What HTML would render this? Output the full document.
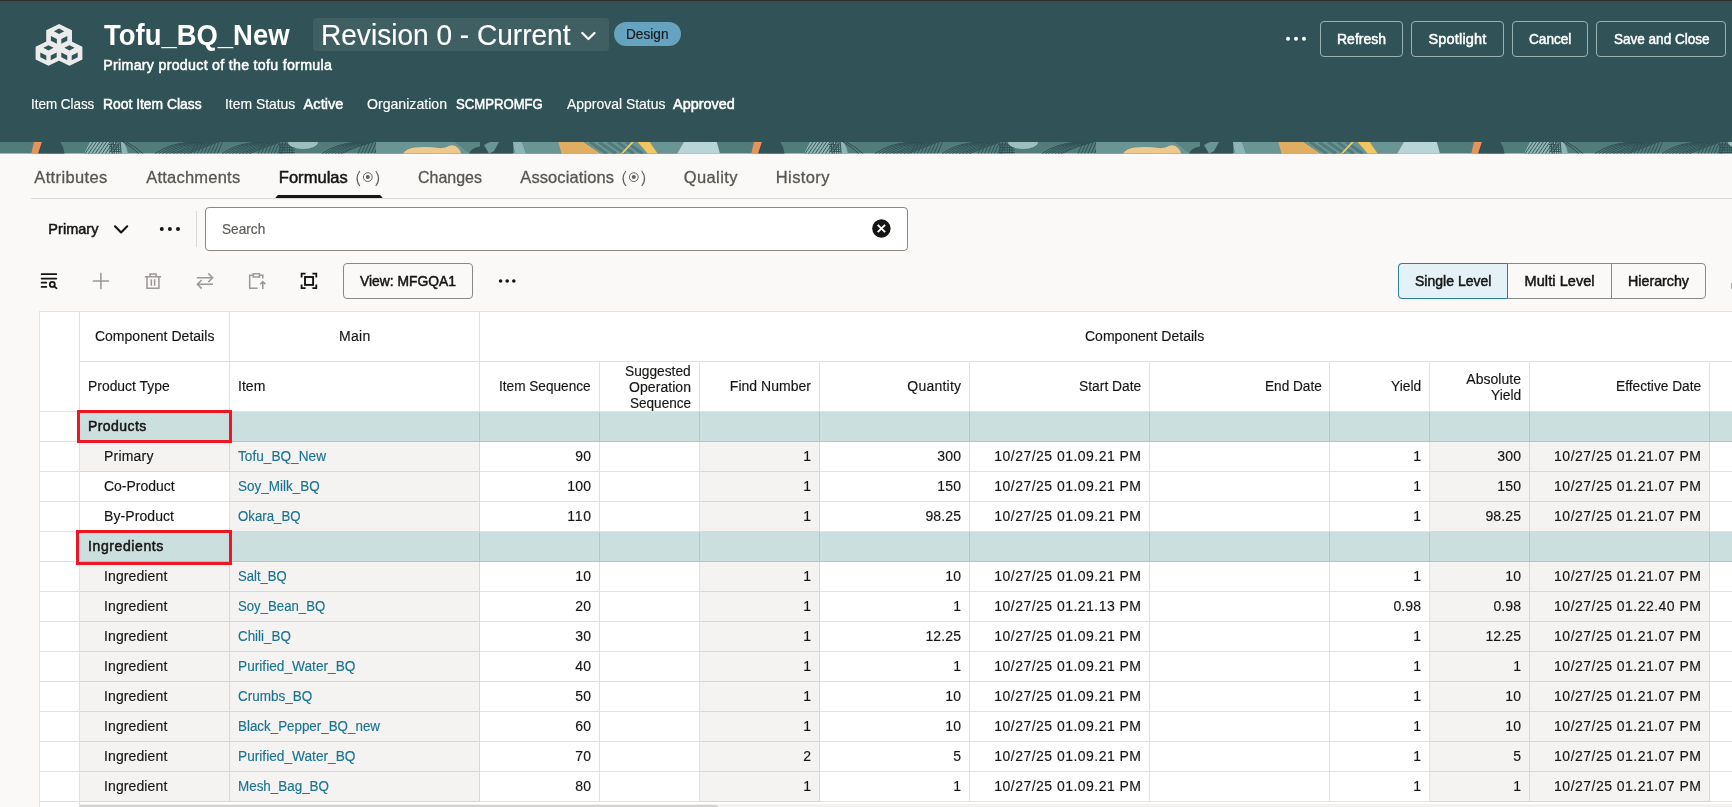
<!DOCTYPE html>
<html lang="en">
<head>
<meta charset="utf-8">
<title>Tofu_BQ_New - Formulas</title>
<style>
html,body{margin:0;padding:0;}
body{width:1732px;height:807px;overflow:hidden;position:relative;background:#fbf9f8;font-family:"Liberation Sans",sans-serif;color:#161513;}
.t{position:absolute;white-space:pre;transform-origin:0 0;font-family:"Liberation Sans",sans-serif;font-size:14px;}
.abs,.box,.ln,.bg{position:absolute;}
#topline{left:0;top:0;width:1732px;height:1px;background:#312d2a;}
#hdr{left:0;top:1px;width:1732px;height:141px;background:#315357;}
.btn{box-sizing:border-box;border:1px solid #9bb0b0;border-radius:4px;height:36px;top:21px;}
#rev{left:313px;top:18px;width:296px;height:33px;border-radius:4px;background:#405f63;}
#badge{left:614px;top:22px;width:67px;height:24px;border-radius:12px;background:#66a3c0;}
#tabline{left:31px;top:198px;width:1701px;height:1px;background:#dedbd7;}
#search{box-sizing:border-box;left:205px;top:207px;width:703px;height:44px;border:1px solid #8b8782;border-radius:4px;background:#fff;}
#vsep{left:196px;top:211px;width:1px;height:36px;background:#dedbd7;}
#viewbtn{box-sizing:border-box;left:343px;top:263px;width:130px;height:36px;border:1px solid #8b8782;border-radius:4px;}
#seg{box-sizing:border-box;left:1398px;top:263px;width:308px;height:36px;border:1px solid #8b8782;border-radius:4px;}
#seg1{box-sizing:border-box;left:1398px;top:263px;width:110px;height:36px;border:1px solid #2a80a1;border-radius:4px 0 0 4px;background:#e4f1f7;}
.segl{width:1px;height:34px;top:264px;background:#8b8782;}
#txt{left:0;top:0;width:1732px;height:807px;will-change:transform;}
#tbl{left:39px;top:311px;width:1693px;height:496px;background:#fff;}
.bg{background:#f4f3f1;}
.grp{background:#cbdfde;}
.ln{background:rgba(22,21,19,0.125);}
.red{box-sizing:border-box;border:3px solid #ec1624;}
#sbt{left:80px;top:804px;width:1652px;height:3px;background:#f3f2f0;}
#sb{left:80px;top:805px;width:638px;height:4px;background:#d3d2d0;border-radius:0 2px 0 0;}
#edge{left:1731px;top:283px;width:1px;height:6px;background:#a9a6a3;}
</style>
</head>
<body>
<div class="abs" id="topline"></div>
<div class="abs" id="hdr"></div>
<div class="abs" id="rev"></div>
<div class="abs" id="badge"></div>
<div class="abs btn" style="left:1320px;width:83px"></div>
<div class="abs btn" style="left:1411px;width:93px"></div>
<div class="abs btn" style="left:1512px;width:76px"></div>
<div class="abs btn" style="left:1596px;width:130px"></div>
<div class="abs" id="tabline"></div>
<div class="abs" id="search"></div>
<div class="abs" id="vsep"></div>
<div class="abs" id="viewbtn"></div>
<div class="abs" id="seg"></div>
<div class="abs" id="seg1"></div>
<div class="abs segl" style="left:1611px"></div>
<div class="abs" id="tbl"></div>
<div class="bg grp" style="left:80px;top:412px;width:1652px;height:30px"></div>
<div class="bg grp" style="left:80px;top:532px;width:1652px;height:30px"></div>
<div class="bg" style="left:80px;top:442px;width:150px;height:30px"></div>
<div class="bg" style="left:230px;top:442px;width:250px;height:30px"></div>
<div class="bg" style="left:700px;top:442px;width:120px;height:30px"></div>
<div class="bg" style="left:1430px;top:442px;width:280px;height:30px"></div>
<div class="bg" style="left:230px;top:472px;width:250px;height:30px"></div>
<div class="bg" style="left:700px;top:472px;width:120px;height:30px"></div>
<div class="bg" style="left:1430px;top:472px;width:280px;height:30px"></div>
<div class="bg" style="left:230px;top:502px;width:250px;height:30px"></div>
<div class="bg" style="left:700px;top:502px;width:120px;height:30px"></div>
<div class="bg" style="left:1430px;top:502px;width:280px;height:30px"></div>
<div class="bg" style="left:80px;top:562px;width:150px;height:30px"></div>
<div class="bg" style="left:230px;top:562px;width:250px;height:30px"></div>
<div class="bg" style="left:700px;top:562px;width:120px;height:30px"></div>
<div class="bg" style="left:1430px;top:562px;width:280px;height:30px"></div>
<div class="bg" style="left:80px;top:592px;width:150px;height:30px"></div>
<div class="bg" style="left:230px;top:592px;width:250px;height:30px"></div>
<div class="bg" style="left:700px;top:592px;width:120px;height:30px"></div>
<div class="bg" style="left:1430px;top:592px;width:280px;height:30px"></div>
<div class="bg" style="left:80px;top:622px;width:150px;height:30px"></div>
<div class="bg" style="left:230px;top:622px;width:250px;height:30px"></div>
<div class="bg" style="left:700px;top:622px;width:120px;height:30px"></div>
<div class="bg" style="left:1430px;top:622px;width:280px;height:30px"></div>
<div class="bg" style="left:80px;top:652px;width:150px;height:30px"></div>
<div class="bg" style="left:230px;top:652px;width:250px;height:30px"></div>
<div class="bg" style="left:700px;top:652px;width:120px;height:30px"></div>
<div class="bg" style="left:1430px;top:652px;width:280px;height:30px"></div>
<div class="bg" style="left:80px;top:682px;width:150px;height:30px"></div>
<div class="bg" style="left:230px;top:682px;width:250px;height:30px"></div>
<div class="bg" style="left:700px;top:682px;width:120px;height:30px"></div>
<div class="bg" style="left:1430px;top:682px;width:280px;height:30px"></div>
<div class="bg" style="left:80px;top:712px;width:150px;height:30px"></div>
<div class="bg" style="left:230px;top:712px;width:250px;height:30px"></div>
<div class="bg" style="left:700px;top:712px;width:120px;height:30px"></div>
<div class="bg" style="left:1430px;top:712px;width:280px;height:30px"></div>
<div class="bg" style="left:80px;top:742px;width:150px;height:30px"></div>
<div class="bg" style="left:230px;top:742px;width:250px;height:30px"></div>
<div class="bg" style="left:700px;top:742px;width:120px;height:30px"></div>
<div class="bg" style="left:1430px;top:742px;width:280px;height:30px"></div>
<div class="bg" style="left:80px;top:772px;width:150px;height:30px"></div>
<div class="bg" style="left:230px;top:772px;width:250px;height:30px"></div>
<div class="bg" style="left:700px;top:772px;width:120px;height:30px"></div>
<div class="bg" style="left:1430px;top:772px;width:280px;height:30px"></div>
<div class="ln" style="left:39px;top:311px;width:1693px;height:1px"></div>
<div class="ln" style="left:80px;top:361px;width:1652px;height:1px"></div>
<div class="ln" style="left:39px;top:411px;width:1693px;height:1px"></div>
<div class="ln" style="left:39px;top:441px;width:1693px;height:1px"></div>
<div class="ln" style="left:39px;top:471px;width:1693px;height:1px"></div>
<div class="ln" style="left:39px;top:501px;width:1693px;height:1px"></div>
<div class="ln" style="left:39px;top:531px;width:1693px;height:1px"></div>
<div class="ln" style="left:39px;top:561px;width:1693px;height:1px"></div>
<div class="ln" style="left:39px;top:591px;width:1693px;height:1px"></div>
<div class="ln" style="left:39px;top:621px;width:1693px;height:1px"></div>
<div class="ln" style="left:39px;top:651px;width:1693px;height:1px"></div>
<div class="ln" style="left:39px;top:681px;width:1693px;height:1px"></div>
<div class="ln" style="left:39px;top:711px;width:1693px;height:1px"></div>
<div class="ln" style="left:39px;top:741px;width:1693px;height:1px"></div>
<div class="ln" style="left:39px;top:771px;width:1693px;height:1px"></div>
<div class="ln" style="left:39px;top:801px;width:1693px;height:1px"></div>
<div class="ln" style="left:39px;top:312px;width:1px;height:99px"></div>
<div class="ln" style="left:39px;top:412px;width:1px;height:29px"></div>
<div class="ln" style="left:39px;top:442px;width:1px;height:29px"></div>
<div class="ln" style="left:39px;top:472px;width:1px;height:29px"></div>
<div class="ln" style="left:39px;top:502px;width:1px;height:29px"></div>
<div class="ln" style="left:39px;top:532px;width:1px;height:29px"></div>
<div class="ln" style="left:39px;top:562px;width:1px;height:29px"></div>
<div class="ln" style="left:39px;top:592px;width:1px;height:29px"></div>
<div class="ln" style="left:39px;top:622px;width:1px;height:29px"></div>
<div class="ln" style="left:39px;top:652px;width:1px;height:29px"></div>
<div class="ln" style="left:39px;top:682px;width:1px;height:29px"></div>
<div class="ln" style="left:39px;top:712px;width:1px;height:29px"></div>
<div class="ln" style="left:39px;top:742px;width:1px;height:29px"></div>
<div class="ln" style="left:39px;top:772px;width:1px;height:29px"></div>
<div class="ln" style="left:39px;top:802px;width:1px;height:5px"></div>
<div class="ln" style="left:79px;top:312px;width:1px;height:99px"></div>
<div class="ln" style="left:79px;top:412px;width:1px;height:29px"></div>
<div class="ln" style="left:79px;top:442px;width:1px;height:29px"></div>
<div class="ln" style="left:79px;top:472px;width:1px;height:29px"></div>
<div class="ln" style="left:79px;top:502px;width:1px;height:29px"></div>
<div class="ln" style="left:79px;top:532px;width:1px;height:29px"></div>
<div class="ln" style="left:79px;top:562px;width:1px;height:29px"></div>
<div class="ln" style="left:79px;top:592px;width:1px;height:29px"></div>
<div class="ln" style="left:79px;top:622px;width:1px;height:29px"></div>
<div class="ln" style="left:79px;top:652px;width:1px;height:29px"></div>
<div class="ln" style="left:79px;top:682px;width:1px;height:29px"></div>
<div class="ln" style="left:79px;top:712px;width:1px;height:29px"></div>
<div class="ln" style="left:79px;top:742px;width:1px;height:29px"></div>
<div class="ln" style="left:79px;top:772px;width:1px;height:29px"></div>
<div class="ln" style="left:79px;top:802px;width:1px;height:5px"></div>
<div class="ln" style="left:229px;top:312px;width:1px;height:49px"></div>
<div class="ln" style="left:229px;top:362px;width:1px;height:49px"></div>
<div class="ln" style="left:229px;top:412px;width:1px;height:29px"></div>
<div class="ln" style="left:229px;top:442px;width:1px;height:29px"></div>
<div class="ln" style="left:229px;top:472px;width:1px;height:29px"></div>
<div class="ln" style="left:229px;top:502px;width:1px;height:29px"></div>
<div class="ln" style="left:229px;top:532px;width:1px;height:29px"></div>
<div class="ln" style="left:229px;top:562px;width:1px;height:29px"></div>
<div class="ln" style="left:229px;top:592px;width:1px;height:29px"></div>
<div class="ln" style="left:229px;top:622px;width:1px;height:29px"></div>
<div class="ln" style="left:229px;top:652px;width:1px;height:29px"></div>
<div class="ln" style="left:229px;top:682px;width:1px;height:29px"></div>
<div class="ln" style="left:229px;top:712px;width:1px;height:29px"></div>
<div class="ln" style="left:229px;top:742px;width:1px;height:29px"></div>
<div class="ln" style="left:229px;top:772px;width:1px;height:29px"></div>
<div class="ln" style="left:479px;top:312px;width:1px;height:49px"></div>
<div class="ln" style="left:479px;top:362px;width:1px;height:49px"></div>
<div class="ln" style="left:479px;top:412px;width:1px;height:29px"></div>
<div class="ln" style="left:479px;top:442px;width:1px;height:29px"></div>
<div class="ln" style="left:479px;top:472px;width:1px;height:29px"></div>
<div class="ln" style="left:479px;top:502px;width:1px;height:29px"></div>
<div class="ln" style="left:479px;top:532px;width:1px;height:29px"></div>
<div class="ln" style="left:479px;top:562px;width:1px;height:29px"></div>
<div class="ln" style="left:479px;top:592px;width:1px;height:29px"></div>
<div class="ln" style="left:479px;top:622px;width:1px;height:29px"></div>
<div class="ln" style="left:479px;top:652px;width:1px;height:29px"></div>
<div class="ln" style="left:479px;top:682px;width:1px;height:29px"></div>
<div class="ln" style="left:479px;top:712px;width:1px;height:29px"></div>
<div class="ln" style="left:479px;top:742px;width:1px;height:29px"></div>
<div class="ln" style="left:479px;top:772px;width:1px;height:29px"></div>
<div class="ln" style="left:599px;top:362px;width:1px;height:49px"></div>
<div class="ln" style="left:599px;top:412px;width:1px;height:29px"></div>
<div class="ln" style="left:599px;top:442px;width:1px;height:29px"></div>
<div class="ln" style="left:599px;top:472px;width:1px;height:29px"></div>
<div class="ln" style="left:599px;top:502px;width:1px;height:29px"></div>
<div class="ln" style="left:599px;top:532px;width:1px;height:29px"></div>
<div class="ln" style="left:599px;top:562px;width:1px;height:29px"></div>
<div class="ln" style="left:599px;top:592px;width:1px;height:29px"></div>
<div class="ln" style="left:599px;top:622px;width:1px;height:29px"></div>
<div class="ln" style="left:599px;top:652px;width:1px;height:29px"></div>
<div class="ln" style="left:599px;top:682px;width:1px;height:29px"></div>
<div class="ln" style="left:599px;top:712px;width:1px;height:29px"></div>
<div class="ln" style="left:599px;top:742px;width:1px;height:29px"></div>
<div class="ln" style="left:599px;top:772px;width:1px;height:29px"></div>
<div class="ln" style="left:699px;top:362px;width:1px;height:49px"></div>
<div class="ln" style="left:699px;top:412px;width:1px;height:29px"></div>
<div class="ln" style="left:699px;top:442px;width:1px;height:29px"></div>
<div class="ln" style="left:699px;top:472px;width:1px;height:29px"></div>
<div class="ln" style="left:699px;top:502px;width:1px;height:29px"></div>
<div class="ln" style="left:699px;top:532px;width:1px;height:29px"></div>
<div class="ln" style="left:699px;top:562px;width:1px;height:29px"></div>
<div class="ln" style="left:699px;top:592px;width:1px;height:29px"></div>
<div class="ln" style="left:699px;top:622px;width:1px;height:29px"></div>
<div class="ln" style="left:699px;top:652px;width:1px;height:29px"></div>
<div class="ln" style="left:699px;top:682px;width:1px;height:29px"></div>
<div class="ln" style="left:699px;top:712px;width:1px;height:29px"></div>
<div class="ln" style="left:699px;top:742px;width:1px;height:29px"></div>
<div class="ln" style="left:699px;top:772px;width:1px;height:29px"></div>
<div class="ln" style="left:819px;top:362px;width:1px;height:49px"></div>
<div class="ln" style="left:819px;top:412px;width:1px;height:29px"></div>
<div class="ln" style="left:819px;top:442px;width:1px;height:29px"></div>
<div class="ln" style="left:819px;top:472px;width:1px;height:29px"></div>
<div class="ln" style="left:819px;top:502px;width:1px;height:29px"></div>
<div class="ln" style="left:819px;top:532px;width:1px;height:29px"></div>
<div class="ln" style="left:819px;top:562px;width:1px;height:29px"></div>
<div class="ln" style="left:819px;top:592px;width:1px;height:29px"></div>
<div class="ln" style="left:819px;top:622px;width:1px;height:29px"></div>
<div class="ln" style="left:819px;top:652px;width:1px;height:29px"></div>
<div class="ln" style="left:819px;top:682px;width:1px;height:29px"></div>
<div class="ln" style="left:819px;top:712px;width:1px;height:29px"></div>
<div class="ln" style="left:819px;top:742px;width:1px;height:29px"></div>
<div class="ln" style="left:819px;top:772px;width:1px;height:29px"></div>
<div class="ln" style="left:969px;top:362px;width:1px;height:49px"></div>
<div class="ln" style="left:969px;top:412px;width:1px;height:29px"></div>
<div class="ln" style="left:969px;top:442px;width:1px;height:29px"></div>
<div class="ln" style="left:969px;top:472px;width:1px;height:29px"></div>
<div class="ln" style="left:969px;top:502px;width:1px;height:29px"></div>
<div class="ln" style="left:969px;top:532px;width:1px;height:29px"></div>
<div class="ln" style="left:969px;top:562px;width:1px;height:29px"></div>
<div class="ln" style="left:969px;top:592px;width:1px;height:29px"></div>
<div class="ln" style="left:969px;top:622px;width:1px;height:29px"></div>
<div class="ln" style="left:969px;top:652px;width:1px;height:29px"></div>
<div class="ln" style="left:969px;top:682px;width:1px;height:29px"></div>
<div class="ln" style="left:969px;top:712px;width:1px;height:29px"></div>
<div class="ln" style="left:969px;top:742px;width:1px;height:29px"></div>
<div class="ln" style="left:969px;top:772px;width:1px;height:29px"></div>
<div class="ln" style="left:1149px;top:362px;width:1px;height:49px"></div>
<div class="ln" style="left:1149px;top:412px;width:1px;height:29px"></div>
<div class="ln" style="left:1149px;top:442px;width:1px;height:29px"></div>
<div class="ln" style="left:1149px;top:472px;width:1px;height:29px"></div>
<div class="ln" style="left:1149px;top:502px;width:1px;height:29px"></div>
<div class="ln" style="left:1149px;top:532px;width:1px;height:29px"></div>
<div class="ln" style="left:1149px;top:562px;width:1px;height:29px"></div>
<div class="ln" style="left:1149px;top:592px;width:1px;height:29px"></div>
<div class="ln" style="left:1149px;top:622px;width:1px;height:29px"></div>
<div class="ln" style="left:1149px;top:652px;width:1px;height:29px"></div>
<div class="ln" style="left:1149px;top:682px;width:1px;height:29px"></div>
<div class="ln" style="left:1149px;top:712px;width:1px;height:29px"></div>
<div class="ln" style="left:1149px;top:742px;width:1px;height:29px"></div>
<div class="ln" style="left:1149px;top:772px;width:1px;height:29px"></div>
<div class="ln" style="left:1329px;top:362px;width:1px;height:49px"></div>
<div class="ln" style="left:1329px;top:412px;width:1px;height:29px"></div>
<div class="ln" style="left:1329px;top:442px;width:1px;height:29px"></div>
<div class="ln" style="left:1329px;top:472px;width:1px;height:29px"></div>
<div class="ln" style="left:1329px;top:502px;width:1px;height:29px"></div>
<div class="ln" style="left:1329px;top:532px;width:1px;height:29px"></div>
<div class="ln" style="left:1329px;top:562px;width:1px;height:29px"></div>
<div class="ln" style="left:1329px;top:592px;width:1px;height:29px"></div>
<div class="ln" style="left:1329px;top:622px;width:1px;height:29px"></div>
<div class="ln" style="left:1329px;top:652px;width:1px;height:29px"></div>
<div class="ln" style="left:1329px;top:682px;width:1px;height:29px"></div>
<div class="ln" style="left:1329px;top:712px;width:1px;height:29px"></div>
<div class="ln" style="left:1329px;top:742px;width:1px;height:29px"></div>
<div class="ln" style="left:1329px;top:772px;width:1px;height:29px"></div>
<div class="ln" style="left:1429px;top:362px;width:1px;height:49px"></div>
<div class="ln" style="left:1429px;top:412px;width:1px;height:29px"></div>
<div class="ln" style="left:1429px;top:442px;width:1px;height:29px"></div>
<div class="ln" style="left:1429px;top:472px;width:1px;height:29px"></div>
<div class="ln" style="left:1429px;top:502px;width:1px;height:29px"></div>
<div class="ln" style="left:1429px;top:532px;width:1px;height:29px"></div>
<div class="ln" style="left:1429px;top:562px;width:1px;height:29px"></div>
<div class="ln" style="left:1429px;top:592px;width:1px;height:29px"></div>
<div class="ln" style="left:1429px;top:622px;width:1px;height:29px"></div>
<div class="ln" style="left:1429px;top:652px;width:1px;height:29px"></div>
<div class="ln" style="left:1429px;top:682px;width:1px;height:29px"></div>
<div class="ln" style="left:1429px;top:712px;width:1px;height:29px"></div>
<div class="ln" style="left:1429px;top:742px;width:1px;height:29px"></div>
<div class="ln" style="left:1429px;top:772px;width:1px;height:29px"></div>
<div class="ln" style="left:1529px;top:362px;width:1px;height:49px"></div>
<div class="ln" style="left:1529px;top:412px;width:1px;height:29px"></div>
<div class="ln" style="left:1529px;top:442px;width:1px;height:29px"></div>
<div class="ln" style="left:1529px;top:472px;width:1px;height:29px"></div>
<div class="ln" style="left:1529px;top:502px;width:1px;height:29px"></div>
<div class="ln" style="left:1529px;top:532px;width:1px;height:29px"></div>
<div class="ln" style="left:1529px;top:562px;width:1px;height:29px"></div>
<div class="ln" style="left:1529px;top:592px;width:1px;height:29px"></div>
<div class="ln" style="left:1529px;top:622px;width:1px;height:29px"></div>
<div class="ln" style="left:1529px;top:652px;width:1px;height:29px"></div>
<div class="ln" style="left:1529px;top:682px;width:1px;height:29px"></div>
<div class="ln" style="left:1529px;top:712px;width:1px;height:29px"></div>
<div class="ln" style="left:1529px;top:742px;width:1px;height:29px"></div>
<div class="ln" style="left:1529px;top:772px;width:1px;height:29px"></div>
<div class="ln" style="left:1709px;top:362px;width:1px;height:49px"></div>
<div class="ln" style="left:1709px;top:412px;width:1px;height:29px"></div>
<div class="ln" style="left:1709px;top:442px;width:1px;height:29px"></div>
<div class="ln" style="left:1709px;top:472px;width:1px;height:29px"></div>
<div class="ln" style="left:1709px;top:502px;width:1px;height:29px"></div>
<div class="ln" style="left:1709px;top:532px;width:1px;height:29px"></div>
<div class="ln" style="left:1709px;top:562px;width:1px;height:29px"></div>
<div class="ln" style="left:1709px;top:592px;width:1px;height:29px"></div>
<div class="ln" style="left:1709px;top:622px;width:1px;height:29px"></div>
<div class="ln" style="left:1709px;top:652px;width:1px;height:29px"></div>
<div class="ln" style="left:1709px;top:682px;width:1px;height:29px"></div>
<div class="ln" style="left:1709px;top:712px;width:1px;height:29px"></div>
<div class="ln" style="left:1709px;top:742px;width:1px;height:29px"></div>
<div class="ln" style="left:1709px;top:772px;width:1px;height:29px"></div>
<div class="abs red" style="left:77px;top:410px;width:155px;height:33px"></div>
<div class="abs red" style="left:76px;top:530px;width:156px;height:35px"></div>
<div class="abs" id="sbt"></div>
<div class="abs" id="sb"></div>
<div class="abs" id="edge"></div>
<svg class="abs" style="left:0;top:0" width="1732" height="807" viewBox="0 0 1732 807">
<defs><clipPath id="sc"><rect x="0" y="142" width="1732" height="11.7"/></clipPath></defs>
<g clip-path="url(#sc)"><g transform="translate(0,142)"><rect x="0" y="0" width="720" height="11.7" fill="#517c7a"/>
<polygon points="34,0 42,0 38.1,11.7 31.2,11.7" fill="#e8935a"/>
<path d="M42,0 L60,0 Q64,5 64.5,11.7 L38.1,11.7 Z" fill="#315357"/>
<path d="M90,0 L124,0 Q127,6 128,11.7 L84,11.7 Z" fill="#8fb5b3"/>
<path d="M93.0,0 Q89.5,5 85.0,11.7 M96.4,0 Q92.9,5 88.4,11.7 M99.8,0 Q96.3,5 91.8,11.7 M103.2,0 Q99.7,5 95.2,11.7 M106.6,0 Q103.1,5 98.6,11.7 M110.0,0 Q106.5,5 102.0,11.7 M113.4,0 Q109.9,5 105.4,11.7 M116.8,0 Q113.3,5 108.8,11.7 M120.2,0 Q116.7,5 112.2,11.7 M111.0,0 L112.0,11.7 M113.3,0 L114.3,11.7 M115.6,0 L116.6,11.7 M117.9,0 L118.9,11.7 M120.2,0 L121.2,11.7 M109,2.5 L121,3.1 M109,4.7 L121,5.3 M109,6.9 L121,7.5 M109,9.1 L121,9.7 M123,0 Q132,5 139,11.7 M126,0 Q135,4 143,11.7 M155.0,11.7 Q169.0,1.5 191.0,0 M158.6,11.7 Q173.2,1.8 194.0,0 M162.2,11.7 Q177.4,2.1 197.0,0 M165.8,11.7 Q181.6,2.4 200.0,0 M169.4,11.7 Q185.8,2.7 203.0,0 M173.0,11.7 Q190.0,3.0 206.0,0 M176.6,11.7 Q194.2,3.3 209.0,0 M180.2,11.7 Q198.4,3.6 212.0,0 M183.8,11.7 Q202.6,3.9 215.0,0 M187.4,11.7 Q206.8,4.2 218.0,0 M196.0,0 L191.0,11.7 M199.3,0 L194.3,11.7 M202.6,0 L197.6,11.7 M205.9,0 L200.9,11.7 M209.2,0 L204.2,11.7 M212.5,0 L207.5,11.7 M215.8,0 L210.8,11.7 M219.1,0 L214.1,11.7 M222.4,0 L217.4,11.7 M222.0,11.7 Q236.0,1.5 258.0,0 M225.4,11.7 Q240.0,1.8 260.8,0 M228.8,11.7 Q244.0,2.1 263.6,0 M232.2,11.7 Q248.0,2.4 266.4,0 M235.6,11.7 Q252.0,2.7 269.2,0 M239.0,11.7 Q256.0,3.0 272.0,0 M242.4,11.7 Q260.0,3.3 274.8,0 M245.8,11.7 Q264.0,3.6 277.6,0 M249.2,11.7 Q268.0,3.9 280.4,0 M263.0,0 L258.0,11.7 M266.3,0 L261.3,11.7 M269.6,0 L264.6,11.7 M272.9,0 L267.9,11.7 M276.2,0 L271.2,11.7 M279.5,0 L274.5,11.7 M282.8,0 L277.8,11.7 M286.1,0 L281.1,11.7 M322.0,11.7 Q336.0,1.5 358.0,0 M325.2,11.7 Q339.8,1.8 360.6,0 M328.4,11.7 Q343.6,2.1 363.2,0 M331.6,11.7 Q347.4,2.4 365.8,0 M334.8,11.7 Q351.2,2.7 368.4,0 M338.0,11.7 Q355.0,3.0 371.0,0 M341.2,11.7 Q358.8,3.3 373.6,0 M363.0,0 L358.0,11.7 M366.3,0 L361.3,11.7 M369.6,0 L364.6,11.7 M372.9,0 L367.9,11.7 M376.2,0 L371.2,11.7 M379.5,0 L374.5,11.7 M280.0,1 L280.0,11.7 M282.4,1 L282.4,11.7 M284.8,1 L284.8,11.7 M287.2,1 L287.2,11.7 M289.6,1 L289.6,11.7 M292.0,1 L292.0,11.7 M279,3 L295,3 M279,5.5 L295,5.5 M279,8 L295,8 M279,10.5 L295,10.5" fill="none" stroke="#2c4d51" stroke-width="0.9"/>
<ellipse cx="303" cy="0" rx="15" ry="7" fill="#9dbfbd"/>
<polygon points="376,0 455,0 470,11.7 376,11.7" fill="#6b9593"/>
<polygon points="455,0 480,0 480,6 470,11.7" fill="#5a8583"/>
<path d="M403,11.7 Q406,7 414,5.6 Q428,4.2 440,6.3 Q446,6 450,3.6 Q455,2.6 458,6 Q461,9 461,11.7 Z" fill="#edc98f"/>
<path d="M469,11.7 Q471,6 480,4.5 L480,11.7 Z" fill="#315357"/>
<rect x="480" y="0" width="33" height="11.7" fill="#315357"/>
<polygon points="484,3 490,0 499,0 494,9 489,11.7" fill="#6b9593"/>
<polygon points="513,0 522,0 526,11.7 515,11.7" fill="#8db4b8"/>
<polygon points="522,0 559,0 562,11.7 526,11.7" fill="#6b9593"/>
<polygon points="558.4,0 583.5,0 601,11.7 561.6,11.7" fill="#dfae60"/>
<polygon points="583.5,0 684,0 677,11.7 601,11.7" fill="#6b9593"/>
<path d="M590.0,0 L607.0,11.7 M599.0,0 L616.0,11.7 M608.0,0 L625.0,11.7 M617.0,0 L634.0,11.7 M626.0,0 L643.0,11.7" stroke="#527c7a" stroke-width="3.2" fill="none"/>
<polygon points="631.5,0 634,0 623,11.7 620.5,11.7" fill="#f2c661"/>
<polygon points="637.6,0 649.7,0 657.8,11.7 648,11.7" fill="#f2c661"/>
<polygon points="684,0 716.8,0 720,11.7 677,11.7" fill="#b9d4d6"/></g><g transform="translate(720,142)"><rect x="0" y="0" width="720" height="11.7" fill="#517c7a"/>
<polygon points="34,0 42,0 38.1,11.7 31.2,11.7" fill="#e8935a"/>
<path d="M42,0 L60,0 Q64,5 64.5,11.7 L38.1,11.7 Z" fill="#315357"/>
<path d="M90,0 L124,0 Q127,6 128,11.7 L84,11.7 Z" fill="#8fb5b3"/>
<path d="M93.0,0 Q89.5,5 85.0,11.7 M96.4,0 Q92.9,5 88.4,11.7 M99.8,0 Q96.3,5 91.8,11.7 M103.2,0 Q99.7,5 95.2,11.7 M106.6,0 Q103.1,5 98.6,11.7 M110.0,0 Q106.5,5 102.0,11.7 M113.4,0 Q109.9,5 105.4,11.7 M116.8,0 Q113.3,5 108.8,11.7 M120.2,0 Q116.7,5 112.2,11.7 M111.0,0 L112.0,11.7 M113.3,0 L114.3,11.7 M115.6,0 L116.6,11.7 M117.9,0 L118.9,11.7 M120.2,0 L121.2,11.7 M109,2.5 L121,3.1 M109,4.7 L121,5.3 M109,6.9 L121,7.5 M109,9.1 L121,9.7 M123,0 Q132,5 139,11.7 M126,0 Q135,4 143,11.7 M155.0,11.7 Q169.0,1.5 191.0,0 M158.6,11.7 Q173.2,1.8 194.0,0 M162.2,11.7 Q177.4,2.1 197.0,0 M165.8,11.7 Q181.6,2.4 200.0,0 M169.4,11.7 Q185.8,2.7 203.0,0 M173.0,11.7 Q190.0,3.0 206.0,0 M176.6,11.7 Q194.2,3.3 209.0,0 M180.2,11.7 Q198.4,3.6 212.0,0 M183.8,11.7 Q202.6,3.9 215.0,0 M187.4,11.7 Q206.8,4.2 218.0,0 M196.0,0 L191.0,11.7 M199.3,0 L194.3,11.7 M202.6,0 L197.6,11.7 M205.9,0 L200.9,11.7 M209.2,0 L204.2,11.7 M212.5,0 L207.5,11.7 M215.8,0 L210.8,11.7 M219.1,0 L214.1,11.7 M222.4,0 L217.4,11.7 M222.0,11.7 Q236.0,1.5 258.0,0 M225.4,11.7 Q240.0,1.8 260.8,0 M228.8,11.7 Q244.0,2.1 263.6,0 M232.2,11.7 Q248.0,2.4 266.4,0 M235.6,11.7 Q252.0,2.7 269.2,0 M239.0,11.7 Q256.0,3.0 272.0,0 M242.4,11.7 Q260.0,3.3 274.8,0 M245.8,11.7 Q264.0,3.6 277.6,0 M249.2,11.7 Q268.0,3.9 280.4,0 M263.0,0 L258.0,11.7 M266.3,0 L261.3,11.7 M269.6,0 L264.6,11.7 M272.9,0 L267.9,11.7 M276.2,0 L271.2,11.7 M279.5,0 L274.5,11.7 M282.8,0 L277.8,11.7 M286.1,0 L281.1,11.7 M322.0,11.7 Q336.0,1.5 358.0,0 M325.2,11.7 Q339.8,1.8 360.6,0 M328.4,11.7 Q343.6,2.1 363.2,0 M331.6,11.7 Q347.4,2.4 365.8,0 M334.8,11.7 Q351.2,2.7 368.4,0 M338.0,11.7 Q355.0,3.0 371.0,0 M341.2,11.7 Q358.8,3.3 373.6,0 M363.0,0 L358.0,11.7 M366.3,0 L361.3,11.7 M369.6,0 L364.6,11.7 M372.9,0 L367.9,11.7 M376.2,0 L371.2,11.7 M379.5,0 L374.5,11.7 M280.0,1 L280.0,11.7 M282.4,1 L282.4,11.7 M284.8,1 L284.8,11.7 M287.2,1 L287.2,11.7 M289.6,1 L289.6,11.7 M292.0,1 L292.0,11.7 M279,3 L295,3 M279,5.5 L295,5.5 M279,8 L295,8 M279,10.5 L295,10.5" fill="none" stroke="#2c4d51" stroke-width="0.9"/>
<ellipse cx="303" cy="0" rx="15" ry="7" fill="#9dbfbd"/>
<polygon points="376,0 455,0 470,11.7 376,11.7" fill="#6b9593"/>
<polygon points="455,0 480,0 480,6 470,11.7" fill="#5a8583"/>
<path d="M403,11.7 Q406,7 414,5.6 Q428,4.2 440,6.3 Q446,6 450,3.6 Q455,2.6 458,6 Q461,9 461,11.7 Z" fill="#edc98f"/>
<path d="M469,11.7 Q471,6 480,4.5 L480,11.7 Z" fill="#315357"/>
<rect x="480" y="0" width="33" height="11.7" fill="#315357"/>
<polygon points="484,3 490,0 499,0 494,9 489,11.7" fill="#6b9593"/>
<polygon points="513,0 522,0 526,11.7 515,11.7" fill="#8db4b8"/>
<polygon points="522,0 559,0 562,11.7 526,11.7" fill="#6b9593"/>
<polygon points="558.4,0 583.5,0 601,11.7 561.6,11.7" fill="#dfae60"/>
<polygon points="583.5,0 684,0 677,11.7 601,11.7" fill="#6b9593"/>
<path d="M590.0,0 L607.0,11.7 M599.0,0 L616.0,11.7 M608.0,0 L625.0,11.7 M617.0,0 L634.0,11.7 M626.0,0 L643.0,11.7" stroke="#527c7a" stroke-width="3.2" fill="none"/>
<polygon points="631.5,0 634,0 623,11.7 620.5,11.7" fill="#f2c661"/>
<polygon points="637.6,0 649.7,0 657.8,11.7 648,11.7" fill="#f2c661"/>
<polygon points="684,0 716.8,0 720,11.7 677,11.7" fill="#b9d4d6"/></g><g transform="translate(1440,142)"><rect x="0" y="0" width="720" height="11.7" fill="#517c7a"/>
<polygon points="34,0 42,0 38.1,11.7 31.2,11.7" fill="#e8935a"/>
<path d="M42,0 L60,0 Q64,5 64.5,11.7 L38.1,11.7 Z" fill="#315357"/>
<path d="M90,0 L124,0 Q127,6 128,11.7 L84,11.7 Z" fill="#8fb5b3"/>
<path d="M93.0,0 Q89.5,5 85.0,11.7 M96.4,0 Q92.9,5 88.4,11.7 M99.8,0 Q96.3,5 91.8,11.7 M103.2,0 Q99.7,5 95.2,11.7 M106.6,0 Q103.1,5 98.6,11.7 M110.0,0 Q106.5,5 102.0,11.7 M113.4,0 Q109.9,5 105.4,11.7 M116.8,0 Q113.3,5 108.8,11.7 M120.2,0 Q116.7,5 112.2,11.7 M111.0,0 L112.0,11.7 M113.3,0 L114.3,11.7 M115.6,0 L116.6,11.7 M117.9,0 L118.9,11.7 M120.2,0 L121.2,11.7 M109,2.5 L121,3.1 M109,4.7 L121,5.3 M109,6.9 L121,7.5 M109,9.1 L121,9.7 M123,0 Q132,5 139,11.7 M126,0 Q135,4 143,11.7 M155.0,11.7 Q169.0,1.5 191.0,0 M158.6,11.7 Q173.2,1.8 194.0,0 M162.2,11.7 Q177.4,2.1 197.0,0 M165.8,11.7 Q181.6,2.4 200.0,0 M169.4,11.7 Q185.8,2.7 203.0,0 M173.0,11.7 Q190.0,3.0 206.0,0 M176.6,11.7 Q194.2,3.3 209.0,0 M180.2,11.7 Q198.4,3.6 212.0,0 M183.8,11.7 Q202.6,3.9 215.0,0 M187.4,11.7 Q206.8,4.2 218.0,0 M196.0,0 L191.0,11.7 M199.3,0 L194.3,11.7 M202.6,0 L197.6,11.7 M205.9,0 L200.9,11.7 M209.2,0 L204.2,11.7 M212.5,0 L207.5,11.7 M215.8,0 L210.8,11.7 M219.1,0 L214.1,11.7 M222.4,0 L217.4,11.7 M222.0,11.7 Q236.0,1.5 258.0,0 M225.4,11.7 Q240.0,1.8 260.8,0 M228.8,11.7 Q244.0,2.1 263.6,0 M232.2,11.7 Q248.0,2.4 266.4,0 M235.6,11.7 Q252.0,2.7 269.2,0 M239.0,11.7 Q256.0,3.0 272.0,0 M242.4,11.7 Q260.0,3.3 274.8,0 M245.8,11.7 Q264.0,3.6 277.6,0 M249.2,11.7 Q268.0,3.9 280.4,0 M263.0,0 L258.0,11.7 M266.3,0 L261.3,11.7 M269.6,0 L264.6,11.7 M272.9,0 L267.9,11.7 M276.2,0 L271.2,11.7 M279.5,0 L274.5,11.7 M282.8,0 L277.8,11.7 M286.1,0 L281.1,11.7 M322.0,11.7 Q336.0,1.5 358.0,0 M325.2,11.7 Q339.8,1.8 360.6,0 M328.4,11.7 Q343.6,2.1 363.2,0 M331.6,11.7 Q347.4,2.4 365.8,0 M334.8,11.7 Q351.2,2.7 368.4,0 M338.0,11.7 Q355.0,3.0 371.0,0 M341.2,11.7 Q358.8,3.3 373.6,0 M363.0,0 L358.0,11.7 M366.3,0 L361.3,11.7 M369.6,0 L364.6,11.7 M372.9,0 L367.9,11.7 M376.2,0 L371.2,11.7 M379.5,0 L374.5,11.7 M280.0,1 L280.0,11.7 M282.4,1 L282.4,11.7 M284.8,1 L284.8,11.7 M287.2,1 L287.2,11.7 M289.6,1 L289.6,11.7 M292.0,1 L292.0,11.7 M279,3 L295,3 M279,5.5 L295,5.5 M279,8 L295,8 M279,10.5 L295,10.5" fill="none" stroke="#2c4d51" stroke-width="0.9"/>
<ellipse cx="303" cy="0" rx="15" ry="7" fill="#9dbfbd"/>
<polygon points="376,0 455,0 470,11.7 376,11.7" fill="#6b9593"/>
<polygon points="455,0 480,0 480,6 470,11.7" fill="#5a8583"/>
<path d="M403,11.7 Q406,7 414,5.6 Q428,4.2 440,6.3 Q446,6 450,3.6 Q455,2.6 458,6 Q461,9 461,11.7 Z" fill="#edc98f"/>
<path d="M469,11.7 Q471,6 480,4.5 L480,11.7 Z" fill="#315357"/>
<rect x="480" y="0" width="33" height="11.7" fill="#315357"/>
<polygon points="484,3 490,0 499,0 494,9 489,11.7" fill="#6b9593"/>
<polygon points="513,0 522,0 526,11.7 515,11.7" fill="#8db4b8"/>
<polygon points="522,0 559,0 562,11.7 526,11.7" fill="#6b9593"/>
<polygon points="558.4,0 583.5,0 601,11.7 561.6,11.7" fill="#dfae60"/>
<polygon points="583.5,0 684,0 677,11.7 601,11.7" fill="#6b9593"/>
<path d="M590.0,0 L607.0,11.7 M599.0,0 L616.0,11.7 M608.0,0 L625.0,11.7 M617.0,0 L634.0,11.7 M626.0,0 L643.0,11.7" stroke="#527c7a" stroke-width="3.2" fill="none"/>
<polygon points="631.5,0 634,0 623,11.7 620.5,11.7" fill="#f2c661"/>
<polygon points="637.6,0 649.7,0 657.8,11.7 648,11.7" fill="#f2c661"/>
<polygon points="684,0 716.8,0 720,11.7 677,11.7" fill="#b9d4d6"/></g></g>
<path d="M59.10,23.90 L72.00,30.20 L72.00,42.90 L59.10,49.20 L46.20,42.90 L46.20,30.20Z M48.50,40.50 L61.40,46.80 L61.40,59.50 L48.50,65.80 L35.60,59.50 L35.60,46.80Z M69.50,40.50 L82.40,46.80 L82.40,59.50 L69.50,65.80 L56.60,59.50 L56.60,46.80Z" fill="#ebebec"/>
<path d="M59.10,28.55 L64.30,31.25 L59.10,33.95 L53.90,31.25Z M50.90,35.90 L56.90,38.90 L56.90,43.75 L50.90,40.70Z M67.30,35.90 L61.30,38.90 L61.30,43.75 L67.30,40.70Z M48.50,45.15 L53.70,47.85 L48.50,50.55 L43.30,47.85Z M40.30,52.50 L46.30,55.50 L46.30,60.35 L40.30,57.30Z M56.70,52.50 L50.70,55.50 L50.70,60.35 L56.70,57.30Z M69.50,45.15 L74.70,47.85 L69.50,50.55 L64.30,47.85Z M61.30,52.50 L67.30,55.50 L67.30,60.35 L61.30,57.30Z M77.70,52.50 L71.70,55.50 L71.70,60.35 L77.70,57.30Z" fill="#315357"/>
<path d="M582.3,33 L588.4,39 L594.5,33" fill="none" stroke="#fff" stroke-width="2.3" stroke-linecap="round" stroke-linejoin="round"/>
<circle cx="1288" cy="38.8" r="2" fill="#fff"/>
<circle cx="1296" cy="38.8" r="2" fill="#fff"/>
<circle cx="1304" cy="38.8" r="2" fill="#fff"/>
<path d="M275.3,198 L277.8,195 L380.2,195 L382.7,198 Z" fill="#161513"/>
<circle cx="367.8" cy="177.1" r="4.4" fill="none" stroke="#64615d" stroke-width="1"/>
<circle cx="367.8" cy="177.1" r="2" fill="#64615d"/>
<path d="M359.8,171 Q354.3,178.5 359.8,186" fill="none" stroke="#64615d" stroke-width="1.2"/>
<path d="M375.8,171 Q381.3,178.5 375.8,186" fill="none" stroke="#64615d" stroke-width="1.2"/>
<circle cx="633.8" cy="177.1" r="4.4" fill="none" stroke="#64615d" stroke-width="1"/>
<circle cx="633.8" cy="177.1" r="2" fill="#64615d"/>
<path d="M625.8,171 Q620.3,178.5 625.8,186" fill="none" stroke="#64615d" stroke-width="1.2"/>
<path d="M641.8,171 Q647.3,178.5 641.8,186" fill="none" stroke="#64615d" stroke-width="1.2"/>
<path d="M115,226.3 L121.1,232.5 L127.2,226.3" fill="none" stroke="#161513" stroke-width="2.1" stroke-linecap="round" stroke-linejoin="round"/>
<circle cx="161.8" cy="229" r="2" fill="#161513"/>
<circle cx="169.9" cy="229" r="2" fill="#161513"/>
<circle cx="178" cy="229" r="2" fill="#161513"/>
<circle cx="881.4" cy="228.5" r="9.2" fill="#161513"/>
<path d="M877.7,224.8 L885.1,232.2 M885.1,224.8 L877.7,232.2" stroke="#fff" stroke-width="1.9" fill="none"/>
<path d="M41.6,274.2 H56.3 M41.6,278.5 H56.3 M41.6,282.7 H46.3 M41.6,286.9 H46.3" stroke="#161513" stroke-width="1.75" stroke-linecap="round" fill="none"/>
<circle cx="52.3" cy="284.4" r="2.5" fill="none" stroke="#161513" stroke-width="1.8"/>
<path d="M54.2,286.3 L56.6,288.4" stroke="#161513" stroke-width="1.7" stroke-linecap="round"/>
<path d="M92.7,281 H109.1 M100.9,272.8 V289.2" stroke="#9c9996" stroke-width="1.55" fill="none"/>
<path d="M144.8,276.8 H161.1 M150,276.8 V273.9 H156.1 V276.8 M147,276.8 V288.2 H158.9 V276.8 M151.3,279.3 V285.8 M154.6,279.3 V285.8" stroke="#9c9996" stroke-width="1.55" fill="none"/>
<path d="M196.8,277.7 H212.3 M208.3,273.4 L212.6,277.7 L208.3,282 M213,284.3 H197.6 M201.7,280 L197.4,284.3 L201.7,288.6" stroke="#9c9996" stroke-width="1.55" fill="none"/>
<path d="M253.2,275.2 H249.7 V288.3 H257.6 M259.4,275.2 H262.8 V278.6 M253.2,273.7 H259.4 V276.9 H253.2 Z M262.8,288.9 V281.8 M260.2,284.3 L262.8,281.7 L265.4,284.3" stroke="#9c9996" stroke-width="1.55" fill="none"/>
<rect x="305" y="277" width="8.1" height="7.9" fill="none" stroke="#161513" stroke-width="1.9"/>
<path d="M301.6,277.6 V273.7 H305.6 M312.4,273.7 H316.3 V277.6 M316.3,284.4 V288.2 H312.4 M305.6,288.2 H301.6 V284.4" stroke="#161513" stroke-width="1.8" fill="none"/>
<circle cx="500.6" cy="281" r="1.8" fill="#161513"/>
<circle cx="507.2" cy="281" r="1.8" fill="#161513"/>
<circle cx="513.8" cy="281" r="1.8" fill="#161513"/>
</svg>
<div class="abs" id="txt">
<span class="t" style="left:103.60px;top:18px;font-size:30px;line-height:33px;color:#ffffff;font-weight:700;transform:scaleX(0.9147);">Tofu_BQ_New</span>
<span class="t" style="left:103.30px;top:57px;font-size:14.2px;line-height:16px;color:#ffffff;letter-spacing:0.296px;-webkit-text-stroke:0.5px #ffffff;">Primary product of the tofu formula</span>
<span class="t" style="left:320.60px;top:18px;font-size:30px;line-height:33px;color:#ffffff;transform:scaleX(0.9353);-webkit-text-stroke:0.15px #ffffff;">Revision 0 - Current</span>
<span class="t" style="left:626.30px;top:26px;font-size:14px;line-height:16px;color:#161c20;transform:scaleX(0.9749);-webkit-text-stroke:0.2px #161c20;">Design</span>
<span class="t" style="left:1337.20px;top:31px;font-size:14.5px;line-height:16px;color:#ffffff;transform:scaleX(0.9649);-webkit-text-stroke:0.5px #ffffff;">Refresh</span>
<span class="t" style="left:1428.40px;top:31px;font-size:14.5px;line-height:16px;color:#ffffff;letter-spacing:0.195px;-webkit-text-stroke:0.5px #ffffff;">Spotlight</span>
<span class="t" style="left:1528.80px;top:31px;font-size:14.5px;line-height:16px;color:#ffffff;transform:scaleX(0.9393);-webkit-text-stroke:0.5px #ffffff;">Cancel</span>
<span class="t" style="left:1613.50px;top:31px;font-size:14.5px;line-height:16px;color:#ffffff;transform:scaleX(0.9328);-webkit-text-stroke:0.5px #ffffff;">Save and Close</span>
<span class="t" style="left:31.00px;top:96px;font-size:14.5px;line-height:16px;color:#ffffff;transform:scaleX(0.9241);-webkit-text-stroke:0.15px #ffffff;">Item Class</span>
<span class="t" style="left:102.60px;top:96px;font-size:14.5px;line-height:16px;color:#ffffff;transform:scaleX(0.9558);-webkit-text-stroke:0.5px #ffffff;">Root Item Class</span>
<span class="t" style="left:225.00px;top:96px;font-size:14.5px;line-height:16px;color:#ffffff;transform:scaleX(0.9585);-webkit-text-stroke:0.15px #ffffff;">Item Status</span>
<span class="t" style="left:303.60px;top:96px;font-size:14.5px;line-height:16px;color:#ffffff;letter-spacing:0.060px;-webkit-text-stroke:0.5px #ffffff;">Active</span>
<span class="t" style="left:367.40px;top:96px;font-size:14.5px;line-height:16px;color:#ffffff;transform:scaleX(0.9730);-webkit-text-stroke:0.15px #ffffff;">Organization</span>
<span class="t" style="left:455.80px;top:96px;font-size:14.5px;line-height:16px;color:#ffffff;transform:scaleX(0.9055);-webkit-text-stroke:0.5px #ffffff;">SCMPROMFG</span>
<span class="t" style="left:566.60px;top:96px;font-size:14.5px;line-height:16px;color:#ffffff;transform:scaleX(0.9612);-webkit-text-stroke:0.15px #ffffff;">Approval Status</span>
<span class="t" style="left:673.20px;top:96px;font-size:14.5px;line-height:16px;color:#ffffff;transform:scaleX(0.9955);-webkit-text-stroke:0.5px #ffffff;">Approved</span>
<span class="t" style="left:34.30px;top:168px;font-size:16.5px;line-height:18px;color:#595651;letter-spacing:0.366px;-webkit-text-stroke:0.3px #595651;">Attributes</span>
<span class="t" style="left:146.20px;top:168px;font-size:16.5px;line-height:18px;color:#595651;letter-spacing:0.228px;-webkit-text-stroke:0.3px #595651;">Attachments</span>
<span class="t" style="left:278.80px;top:168px;font-size:16.5px;line-height:18px;color:#161513;letter-spacing:0.033px;-webkit-text-stroke:0.5px #161513;">Formulas</span>
<span class="t" style="left:417.80px;top:168px;font-size:16.5px;line-height:18px;color:#595651;transform:scaleX(0.9688);-webkit-text-stroke:0.3px #595651;">Changes</span>
<span class="t" style="left:520.30px;top:168px;font-size:16.5px;line-height:18px;color:#595651;letter-spacing:0.096px;-webkit-text-stroke:0.3px #595651;">Associations</span>
<span class="t" style="left:683.80px;top:168px;font-size:16.5px;line-height:18px;color:#595651;letter-spacing:0.373px;-webkit-text-stroke:0.3px #595651;">Quality</span>
<span class="t" style="left:775.80px;top:168px;font-size:16.5px;line-height:18px;color:#595651;letter-spacing:0.376px;-webkit-text-stroke:0.3px #595651;">History</span>
<span class="t" style="left:48.30px;top:221px;font-size:14.5px;line-height:16px;color:#161513;letter-spacing:0.041px;-webkit-text-stroke:0.5px #161513;">Primary</span>
<span class="t" style="left:222.00px;top:221px;font-size:14.5px;line-height:16px;color:#5f5c58;transform:scaleX(0.9423);-webkit-text-stroke:0.2px #5f5c58;">Search</span>
<span class="t" style="left:360.20px;top:273px;font-size:14.5px;line-height:16px;color:#161513;transform:scaleX(0.9557);-webkit-text-stroke:0.5px #161513;">View: MFGQA1</span>
<span class="t" style="left:1414.60px;top:273px;font-size:14.5px;line-height:16px;color:#161513;transform:scaleX(0.9671);-webkit-text-stroke:0.5px #161513;">Single Level</span>
<span class="t" style="left:1524.60px;top:273px;font-size:14.5px;line-height:16px;color:#161513;letter-spacing:0.069px;-webkit-text-stroke:0.5px #161513;">Multi Level</span>
<span class="t" style="left:1628.20px;top:273px;font-size:14.5px;line-height:16px;color:#161513;transform:scaleX(0.9831);-webkit-text-stroke:0.5px #161513;">Hierarchy</span>
<span class="t" style="left:94.90px;top:328px;font-size:14px;line-height:16px;color:#161513;letter-spacing:0.027px;-webkit-text-stroke:0.15px #161513;">Component Details</span>
<span class="t" style="left:339.00px;top:328px;font-size:14px;line-height:16px;color:#161513;letter-spacing:0.280px;-webkit-text-stroke:0.15px #161513;">Main</span>
<span class="t" style="left:1085.00px;top:328px;font-size:14px;line-height:16px;color:#161513;letter-spacing:0.009px;-webkit-text-stroke:0.15px #161513;">Component Details</span>
<span class="t" style="left:88.00px;top:378px;font-size:14px;line-height:16px;color:#161513;transform:scaleX(0.9933);-webkit-text-stroke:0.15px #161513;">Product Type</span>
<span class="t" style="left:238.00px;top:378px;font-size:14px;line-height:16px;color:#161513;letter-spacing:0.022px;-webkit-text-stroke:0.15px #161513;">Item</span>
<span class="t" style="left:499.40px;top:378px;font-size:14px;line-height:16px;color:#161513;transform:scaleX(0.9727);-webkit-text-stroke:0.15px #161513;">Item Sequence</span>
<span class="t" style="left:625.30px;top:363px;font-size:14px;line-height:16px;color:#161513;transform:scaleX(0.9813);-webkit-text-stroke:0.15px #161513;">Suggested</span>
<span class="t" style="left:629.00px;top:379px;font-size:14px;line-height:16px;color:#161513;letter-spacing:0.064px;-webkit-text-stroke:0.15px #161513;">Operation</span>
<span class="t" style="left:630.00px;top:395px;font-size:14px;line-height:16px;color:#161513;transform:scaleX(0.9673);-webkit-text-stroke:0.15px #161513;">Sequence</span>
<span class="t" style="left:729.80px;top:378px;font-size:14px;line-height:16px;color:#161513;letter-spacing:0.028px;-webkit-text-stroke:0.15px #161513;">Find Number</span>
<span class="t" style="left:907.30px;top:378px;font-size:14px;line-height:16px;color:#161513;letter-spacing:0.223px;-webkit-text-stroke:0.15px #161513;">Quantity</span>
<span class="t" style="left:1078.70px;top:378px;font-size:14px;line-height:16px;color:#161513;transform:scaleX(0.9884);-webkit-text-stroke:0.15px #161513;">Start Date</span>
<span class="t" style="left:1264.50px;top:378px;font-size:14px;line-height:16px;color:#161513;transform:scaleX(0.9730);-webkit-text-stroke:0.15px #161513;">End Date</span>
<span class="t" style="left:1390.80px;top:378px;font-size:14px;line-height:16px;color:#161513;transform:scaleX(0.9861);-webkit-text-stroke:0.15px #161513;">Yield</span>
<span class="t" style="left:1466.30px;top:371px;font-size:14px;line-height:16px;color:#161513;letter-spacing:0.031px;-webkit-text-stroke:0.15px #161513;">Absolute</span>
<span class="t" style="left:1490.80px;top:387px;font-size:14px;line-height:16px;color:#161513;transform:scaleX(0.9861);-webkit-text-stroke:0.15px #161513;">Yield</span>
<span class="t" style="left:1615.80px;top:378px;font-size:14px;line-height:16px;color:#161513;transform:scaleX(0.9804);-webkit-text-stroke:0.15px #161513;">Effective Date</span>
<span class="t" style="left:88.00px;top:418px;font-size:14px;line-height:16px;color:#161513;letter-spacing:0.436px;-webkit-text-stroke:0.5px #161513;">Products</span>
<span class="t" style="left:88.00px;top:538px;font-size:14px;line-height:16px;color:#161513;letter-spacing:0.602px;-webkit-text-stroke:0.5px #161513;">Ingredients</span>
<span class="t" style="left:104.00px;top:448px;font-size:14px;line-height:16px;color:#161513;letter-spacing:0.211px;-webkit-text-stroke:0.15px #161513;">Primary</span>
<span class="t" style="left:238.00px;top:448px;font-size:14px;line-height:16px;color:#1a7391;transform:scaleX(0.9747);-webkit-text-stroke:0.15px #1a7391;">Tofu_BQ_New</span>
<span class="t" style="left:575.30px;top:448px;font-size:14px;line-height:16px;color:#161513;letter-spacing:0.122px;-webkit-text-stroke:0.15px #161513;">90</span>
<span class="t" style="left:803.20px;top:448px;font-size:14px;line-height:16px;color:#161513;-webkit-text-stroke:0.15px #161513;">1</span>
<span class="t" style="left:937.30px;top:448px;font-size:14px;line-height:16px;color:#161513;letter-spacing:0.170px;-webkit-text-stroke:0.15px #161513;">300</span>
<span class="t" style="left:994.30px;top:448px;font-size:14px;line-height:16px;color:#161513;letter-spacing:0.469px;-webkit-text-stroke:0.15px #161513;">10/27/25 01.09.21 PM</span>
<span class="t" style="left:1413.20px;top:448px;font-size:14px;line-height:16px;color:#161513;-webkit-text-stroke:0.15px #161513;">1</span>
<span class="t" style="left:1497.30px;top:448px;font-size:14px;line-height:16px;color:#161513;letter-spacing:0.170px;-webkit-text-stroke:0.15px #161513;">300</span>
<span class="t" style="left:1554.10px;top:448px;font-size:14px;line-height:16px;color:#161513;letter-spacing:0.480px;-webkit-text-stroke:0.15px #161513;">10/27/25 01.21.07 PM</span>
<span class="t" style="left:104.00px;top:478px;font-size:14px;line-height:16px;color:#161513;transform:scaleX(0.9984);-webkit-text-stroke:0.15px #161513;">Co-Product</span>
<span class="t" style="left:238.00px;top:478px;font-size:14px;line-height:16px;color:#1a7391;transform:scaleX(0.9633);-webkit-text-stroke:0.15px #1a7391;">Soy_Milk_BQ</span>
<span class="t" style="left:567.30px;top:478px;font-size:14px;line-height:16px;color:#161513;letter-spacing:0.170px;-webkit-text-stroke:0.15px #161513;">100</span>
<span class="t" style="left:803.20px;top:478px;font-size:14px;line-height:16px;color:#161513;-webkit-text-stroke:0.15px #161513;">1</span>
<span class="t" style="left:937.30px;top:478px;font-size:14px;line-height:16px;color:#161513;letter-spacing:0.170px;-webkit-text-stroke:0.15px #161513;">150</span>
<span class="t" style="left:994.30px;top:478px;font-size:14px;line-height:16px;color:#161513;letter-spacing:0.469px;-webkit-text-stroke:0.15px #161513;">10/27/25 01.09.21 PM</span>
<span class="t" style="left:1413.20px;top:478px;font-size:14px;line-height:16px;color:#161513;-webkit-text-stroke:0.15px #161513;">1</span>
<span class="t" style="left:1497.30px;top:478px;font-size:14px;line-height:16px;color:#161513;letter-spacing:0.170px;-webkit-text-stroke:0.15px #161513;">150</span>
<span class="t" style="left:1554.10px;top:478px;font-size:14px;line-height:16px;color:#161513;letter-spacing:0.480px;-webkit-text-stroke:0.15px #161513;">10/27/25 01.21.07 PM</span>
<span class="t" style="left:104.00px;top:508px;font-size:14px;line-height:16px;color:#161513;letter-spacing:0.083px;-webkit-text-stroke:0.15px #161513;">By-Product</span>
<span class="t" style="left:238.00px;top:508px;font-size:14px;line-height:16px;color:#1a7391;transform:scaleX(0.9450);-webkit-text-stroke:0.15px #1a7391;">Okara_BQ</span>
<span class="t" style="left:567.30px;top:508px;font-size:14px;line-height:16px;color:#161513;letter-spacing:0.686px;-webkit-text-stroke:0.15px #161513;">110</span>
<span class="t" style="left:803.20px;top:508px;font-size:14px;line-height:16px;color:#161513;-webkit-text-stroke:0.15px #161513;">1</span>
<span class="t" style="left:925.40px;top:508px;font-size:14px;line-height:16px;color:#161513;letter-spacing:0.138px;-webkit-text-stroke:0.15px #161513;">98.25</span>
<span class="t" style="left:994.30px;top:508px;font-size:14px;line-height:16px;color:#161513;letter-spacing:0.469px;-webkit-text-stroke:0.15px #161513;">10/27/25 01.09.21 PM</span>
<span class="t" style="left:1413.20px;top:508px;font-size:14px;line-height:16px;color:#161513;-webkit-text-stroke:0.15px #161513;">1</span>
<span class="t" style="left:1485.40px;top:508px;font-size:14px;line-height:16px;color:#161513;letter-spacing:0.138px;-webkit-text-stroke:0.15px #161513;">98.25</span>
<span class="t" style="left:1554.10px;top:508px;font-size:14px;line-height:16px;color:#161513;letter-spacing:0.480px;-webkit-text-stroke:0.15px #161513;">10/27/25 01.21.07 PM</span>
<span class="t" style="left:104.00px;top:568px;font-size:14px;line-height:16px;color:#161513;letter-spacing:0.113px;-webkit-text-stroke:0.15px #161513;">Ingredient</span>
<span class="t" style="left:238.00px;top:568px;font-size:14px;line-height:16px;color:#1a7391;transform:scaleX(0.9359);-webkit-text-stroke:0.15px #1a7391;">Salt_BQ</span>
<span class="t" style="left:575.30px;top:568px;font-size:14px;line-height:16px;color:#161513;letter-spacing:0.122px;-webkit-text-stroke:0.15px #161513;">10</span>
<span class="t" style="left:803.20px;top:568px;font-size:14px;line-height:16px;color:#161513;-webkit-text-stroke:0.15px #161513;">1</span>
<span class="t" style="left:945.30px;top:568px;font-size:14px;line-height:16px;color:#161513;letter-spacing:0.122px;-webkit-text-stroke:0.15px #161513;">10</span>
<span class="t" style="left:994.30px;top:568px;font-size:14px;line-height:16px;color:#161513;letter-spacing:0.469px;-webkit-text-stroke:0.15px #161513;">10/27/25 01.09.21 PM</span>
<span class="t" style="left:1413.20px;top:568px;font-size:14px;line-height:16px;color:#161513;-webkit-text-stroke:0.15px #161513;">1</span>
<span class="t" style="left:1505.30px;top:568px;font-size:14px;line-height:16px;color:#161513;letter-spacing:0.122px;-webkit-text-stroke:0.15px #161513;">10</span>
<span class="t" style="left:1554.10px;top:568px;font-size:14px;line-height:16px;color:#161513;letter-spacing:0.480px;-webkit-text-stroke:0.15px #161513;">10/27/25 01.21.07 PM</span>
<span class="t" style="left:104.00px;top:598px;font-size:14px;line-height:16px;color:#161513;letter-spacing:0.113px;-webkit-text-stroke:0.15px #161513;">Ingredient</span>
<span class="t" style="left:238.00px;top:598px;font-size:14px;line-height:16px;color:#1a7391;transform:scaleX(0.9414);-webkit-text-stroke:0.15px #1a7391;">Soy_Bean_BQ</span>
<span class="t" style="left:575.30px;top:598px;font-size:14px;line-height:16px;color:#161513;letter-spacing:0.122px;-webkit-text-stroke:0.15px #161513;">20</span>
<span class="t" style="left:803.20px;top:598px;font-size:14px;line-height:16px;color:#161513;-webkit-text-stroke:0.15px #161513;">1</span>
<span class="t" style="left:953.20px;top:598px;font-size:14px;line-height:16px;color:#161513;-webkit-text-stroke:0.15px #161513;">1</span>
<span class="t" style="left:994.30px;top:598px;font-size:14px;line-height:16px;color:#161513;letter-spacing:0.469px;-webkit-text-stroke:0.15px #161513;">10/27/25 01.21.13 PM</span>
<span class="t" style="left:1393.40px;top:598px;font-size:14px;line-height:16px;color:#161513;letter-spacing:0.117px;-webkit-text-stroke:0.15px #161513;">0.98</span>
<span class="t" style="left:1493.40px;top:598px;font-size:14px;line-height:16px;color:#161513;letter-spacing:0.117px;-webkit-text-stroke:0.15px #161513;">0.98</span>
<span class="t" style="left:1554.10px;top:598px;font-size:14px;line-height:16px;color:#161513;letter-spacing:0.480px;-webkit-text-stroke:0.15px #161513;">10/27/25 01.22.40 PM</span>
<span class="t" style="left:104.00px;top:628px;font-size:14px;line-height:16px;color:#161513;letter-spacing:0.113px;-webkit-text-stroke:0.15px #161513;">Ingredient</span>
<span class="t" style="left:238.00px;top:628px;font-size:14px;line-height:16px;color:#1a7391;transform:scaleX(0.9557);-webkit-text-stroke:0.15px #1a7391;">Chili_BQ</span>
<span class="t" style="left:575.30px;top:628px;font-size:14px;line-height:16px;color:#161513;letter-spacing:0.122px;-webkit-text-stroke:0.15px #161513;">30</span>
<span class="t" style="left:803.20px;top:628px;font-size:14px;line-height:16px;color:#161513;-webkit-text-stroke:0.15px #161513;">1</span>
<span class="t" style="left:925.40px;top:628px;font-size:14px;line-height:16px;color:#161513;letter-spacing:0.138px;-webkit-text-stroke:0.15px #161513;">12.25</span>
<span class="t" style="left:994.30px;top:628px;font-size:14px;line-height:16px;color:#161513;letter-spacing:0.469px;-webkit-text-stroke:0.15px #161513;">10/27/25 01.09.21 PM</span>
<span class="t" style="left:1413.20px;top:628px;font-size:14px;line-height:16px;color:#161513;-webkit-text-stroke:0.15px #161513;">1</span>
<span class="t" style="left:1485.40px;top:628px;font-size:14px;line-height:16px;color:#161513;letter-spacing:0.138px;-webkit-text-stroke:0.15px #161513;">12.25</span>
<span class="t" style="left:1554.10px;top:628px;font-size:14px;line-height:16px;color:#161513;letter-spacing:0.480px;-webkit-text-stroke:0.15px #161513;">10/27/25 01.21.07 PM</span>
<span class="t" style="left:104.00px;top:658px;font-size:14px;line-height:16px;color:#161513;letter-spacing:0.113px;-webkit-text-stroke:0.15px #161513;">Ingredient</span>
<span class="t" style="left:238.00px;top:658px;font-size:14px;line-height:16px;color:#1a7391;transform:scaleX(0.9784);-webkit-text-stroke:0.15px #1a7391;">Purified_Water_BQ</span>
<span class="t" style="left:575.30px;top:658px;font-size:14px;line-height:16px;color:#161513;letter-spacing:0.122px;-webkit-text-stroke:0.15px #161513;">40</span>
<span class="t" style="left:803.20px;top:658px;font-size:14px;line-height:16px;color:#161513;-webkit-text-stroke:0.15px #161513;">1</span>
<span class="t" style="left:953.20px;top:658px;font-size:14px;line-height:16px;color:#161513;-webkit-text-stroke:0.15px #161513;">1</span>
<span class="t" style="left:994.30px;top:658px;font-size:14px;line-height:16px;color:#161513;letter-spacing:0.469px;-webkit-text-stroke:0.15px #161513;">10/27/25 01.09.21 PM</span>
<span class="t" style="left:1413.20px;top:658px;font-size:14px;line-height:16px;color:#161513;-webkit-text-stroke:0.15px #161513;">1</span>
<span class="t" style="left:1513.20px;top:658px;font-size:14px;line-height:16px;color:#161513;-webkit-text-stroke:0.15px #161513;">1</span>
<span class="t" style="left:1554.10px;top:658px;font-size:14px;line-height:16px;color:#161513;letter-spacing:0.480px;-webkit-text-stroke:0.15px #161513;">10/27/25 01.21.07 PM</span>
<span class="t" style="left:104.00px;top:688px;font-size:14px;line-height:16px;color:#161513;letter-spacing:0.113px;-webkit-text-stroke:0.15px #161513;">Ingredient</span>
<span class="t" style="left:238.00px;top:688px;font-size:14px;line-height:16px;color:#1a7391;transform:scaleX(0.9658);-webkit-text-stroke:0.15px #1a7391;">Crumbs_BQ</span>
<span class="t" style="left:575.30px;top:688px;font-size:14px;line-height:16px;color:#161513;letter-spacing:0.122px;-webkit-text-stroke:0.15px #161513;">50</span>
<span class="t" style="left:803.20px;top:688px;font-size:14px;line-height:16px;color:#161513;-webkit-text-stroke:0.15px #161513;">1</span>
<span class="t" style="left:945.30px;top:688px;font-size:14px;line-height:16px;color:#161513;letter-spacing:0.122px;-webkit-text-stroke:0.15px #161513;">10</span>
<span class="t" style="left:994.30px;top:688px;font-size:14px;line-height:16px;color:#161513;letter-spacing:0.469px;-webkit-text-stroke:0.15px #161513;">10/27/25 01.09.21 PM</span>
<span class="t" style="left:1413.20px;top:688px;font-size:14px;line-height:16px;color:#161513;-webkit-text-stroke:0.15px #161513;">1</span>
<span class="t" style="left:1505.30px;top:688px;font-size:14px;line-height:16px;color:#161513;letter-spacing:0.122px;-webkit-text-stroke:0.15px #161513;">10</span>
<span class="t" style="left:1554.10px;top:688px;font-size:14px;line-height:16px;color:#161513;letter-spacing:0.480px;-webkit-text-stroke:0.15px #161513;">10/27/25 01.21.07 PM</span>
<span class="t" style="left:104.00px;top:718px;font-size:14px;line-height:16px;color:#161513;letter-spacing:0.113px;-webkit-text-stroke:0.15px #161513;">Ingredient</span>
<span class="t" style="left:238.00px;top:718px;font-size:14px;line-height:16px;color:#1a7391;transform:scaleX(0.9552);-webkit-text-stroke:0.15px #1a7391;">Black_Pepper_BQ_new</span>
<span class="t" style="left:575.30px;top:718px;font-size:14px;line-height:16px;color:#161513;letter-spacing:0.122px;-webkit-text-stroke:0.15px #161513;">60</span>
<span class="t" style="left:803.20px;top:718px;font-size:14px;line-height:16px;color:#161513;-webkit-text-stroke:0.15px #161513;">1</span>
<span class="t" style="left:945.30px;top:718px;font-size:14px;line-height:16px;color:#161513;letter-spacing:0.122px;-webkit-text-stroke:0.15px #161513;">10</span>
<span class="t" style="left:994.30px;top:718px;font-size:14px;line-height:16px;color:#161513;letter-spacing:0.469px;-webkit-text-stroke:0.15px #161513;">10/27/25 01.09.21 PM</span>
<span class="t" style="left:1413.20px;top:718px;font-size:14px;line-height:16px;color:#161513;-webkit-text-stroke:0.15px #161513;">1</span>
<span class="t" style="left:1505.30px;top:718px;font-size:14px;line-height:16px;color:#161513;letter-spacing:0.122px;-webkit-text-stroke:0.15px #161513;">10</span>
<span class="t" style="left:1554.10px;top:718px;font-size:14px;line-height:16px;color:#161513;letter-spacing:0.480px;-webkit-text-stroke:0.15px #161513;">10/27/25 01.21.07 PM</span>
<span class="t" style="left:104.00px;top:748px;font-size:14px;line-height:16px;color:#161513;letter-spacing:0.113px;-webkit-text-stroke:0.15px #161513;">Ingredient</span>
<span class="t" style="left:238.00px;top:748px;font-size:14px;line-height:16px;color:#1a7391;transform:scaleX(0.9784);-webkit-text-stroke:0.15px #1a7391;">Purified_Water_BQ</span>
<span class="t" style="left:575.30px;top:748px;font-size:14px;line-height:16px;color:#161513;letter-spacing:0.122px;-webkit-text-stroke:0.15px #161513;">70</span>
<span class="t" style="left:803.20px;top:748px;font-size:14px;line-height:16px;color:#161513;-webkit-text-stroke:0.15px #161513;">2</span>
<span class="t" style="left:953.20px;top:748px;font-size:14px;line-height:16px;color:#161513;-webkit-text-stroke:0.15px #161513;">5</span>
<span class="t" style="left:994.30px;top:748px;font-size:14px;line-height:16px;color:#161513;letter-spacing:0.469px;-webkit-text-stroke:0.15px #161513;">10/27/25 01.09.21 PM</span>
<span class="t" style="left:1413.20px;top:748px;font-size:14px;line-height:16px;color:#161513;-webkit-text-stroke:0.15px #161513;">1</span>
<span class="t" style="left:1513.20px;top:748px;font-size:14px;line-height:16px;color:#161513;-webkit-text-stroke:0.15px #161513;">5</span>
<span class="t" style="left:1554.10px;top:748px;font-size:14px;line-height:16px;color:#161513;letter-spacing:0.480px;-webkit-text-stroke:0.15px #161513;">10/27/25 01.21.07 PM</span>
<span class="t" style="left:104.00px;top:778px;font-size:14px;line-height:16px;color:#161513;letter-spacing:0.113px;-webkit-text-stroke:0.15px #161513;">Ingredient</span>
<span class="t" style="left:238.00px;top:778px;font-size:14px;line-height:16px;color:#1a7391;transform:scaleX(0.9584);-webkit-text-stroke:0.15px #1a7391;">Mesh_Bag_BQ</span>
<span class="t" style="left:575.30px;top:778px;font-size:14px;line-height:16px;color:#161513;letter-spacing:0.122px;-webkit-text-stroke:0.15px #161513;">80</span>
<span class="t" style="left:803.20px;top:778px;font-size:14px;line-height:16px;color:#161513;-webkit-text-stroke:0.15px #161513;">1</span>
<span class="t" style="left:953.20px;top:778px;font-size:14px;line-height:16px;color:#161513;-webkit-text-stroke:0.15px #161513;">1</span>
<span class="t" style="left:994.30px;top:778px;font-size:14px;line-height:16px;color:#161513;letter-spacing:0.469px;-webkit-text-stroke:0.15px #161513;">10/27/25 01.09.21 PM</span>
<span class="t" style="left:1413.20px;top:778px;font-size:14px;line-height:16px;color:#161513;-webkit-text-stroke:0.15px #161513;">1</span>
<span class="t" style="left:1513.20px;top:778px;font-size:14px;line-height:16px;color:#161513;-webkit-text-stroke:0.15px #161513;">1</span>
<span class="t" style="left:1554.10px;top:778px;font-size:14px;line-height:16px;color:#161513;letter-spacing:0.480px;-webkit-text-stroke:0.15px #161513;">10/27/25 01.21.07 PM</span>
</div>
</body>
</html>
